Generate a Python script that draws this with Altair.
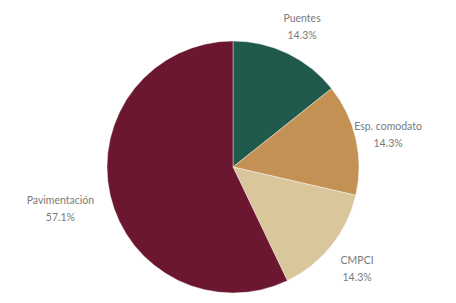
import altair as alt
import pandas as pd

categorias = ["Puentes", "Esp. comodato", "CMPCI", "Pavimentación"]
porcentajes = [14.3, 14.3, 14.3, 57.1]
etiquetas_pct = ["14.3%", "14.3%", "14.3%", "57.1%"]
colores = ["#1f5a4c", "#c39153", "#dac69b", "#6b1730"]

df = pd.DataFrame({
    "categoria": categorias,
    "valor": porcentajes,
    "pct": etiquetas_pct,
    "orden": list(range(len(categorias))),
})
df["etiqueta"] = df["categoria"] + "\n" + df["pct"]

cx, cy = 225, 159

base = alt.Chart(df).encode(
    theta=alt.Theta("valor:Q", stack=True),
    order=alt.Order("orden:Q"),
)

pie = base.mark_arc(outerRadius=126, stroke="#ffffff", strokeWidth=0.4).encode(
    color=alt.Color("categoria:N", scale=alt.Scale(domain=categorias, range=colores), legend=None),
    x=alt.value(cx),
    y=alt.value(cy),
)

text_style = dict(fontSize=10.5, font="Lato", color="#7a7a7a",
                  lineBreak="\n", lineHeight=17, baseline="middle", align="center", dy=-5)

labels_small = base.mark_text(radius=159, **text_style).encode(
    text="etiqueta:N",
    x=alt.value(cx),
    y=alt.value(cy),
    opacity=alt.condition(alt.datum.valor < 50, alt.value(1), alt.value(0)),
)

labels_big = base.mark_text(radius=177, **text_style).encode(
    text="etiqueta:N",
    x=alt.value(cx),
    y=alt.value(cy),
    opacity=alt.condition(alt.datum.valor >= 50, alt.value(1), alt.value(0)),
)

chart = (pie + labels_small + labels_big).properties(
    width=440, height=285, padding=0, autosize="none"
).configure_view(stroke=None)

chart.save("out.html", embed_options={"renderer": "svg", "actions": False})
